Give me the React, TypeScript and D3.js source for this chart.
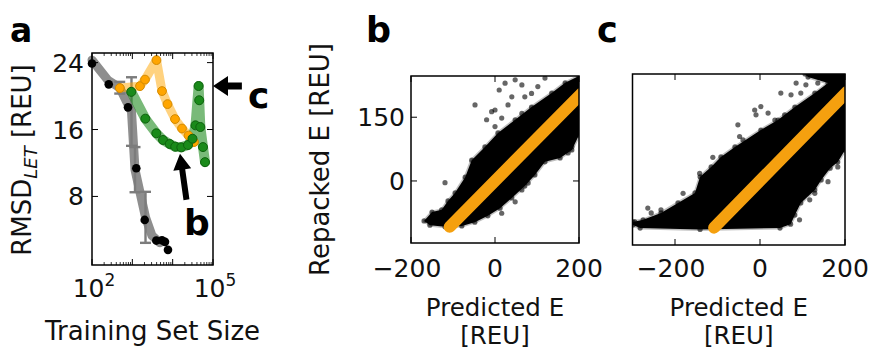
import React from 'react';
import * as d3 from 'd3';

const W = 870;
const H = 354;
const FONT = 'DejaVu Sans, Verdana, sans-serif';

// ---------- Panel a: learning curves ----------
const blackSizes = [100, 260, 781, 1254, 2027, 3930, 5440, 6460, 7650];
const blackRmsd = [23.9, 21.4, 18.65, 11.37, 5.19, 2.72, 2.75, 2.57, 1.61];

const graySizes = [100, 249, 487, 953, 1165, 2122, 3076, 4850];
const grayRmsd = [24.3, 21.9, 21.0, 18.15, 11.2, 5.5, 3.3, 2.45];
const grayErr = [0, 0, 0.7, 4.1, 2.7, 3.05, 0, 0];

const orangeSizes = [490, 1549, 2062, 3970, 5440, 7450, 11430, 17060, 24700, 33800];
const orangeRmsd = [20.96, 21.19, 21.97, 24.3, 20.6, 19.04, 17.25, 16.12, 15.28, 14.5];

const greenSizes = [942, 2100, 3930, 5760, 8450, 11600, 16400, 24000, 31000, 36800, 44000, 45500, 48500, 56500, 63400];
const greenRmsd = [20.5, 17.3, 15.55, 14.75, 14.27, 13.95, 13.87, 14.15, 14.9, 16.5, 21.2, 19.5, 16.3, 13.9, 12.1];

const aYTicks = [8, 16, 24];
const aXLabelExps = [2, 5];
const aMajorExps = [2, 3, 4, 5];

// annotation arrows in panel a (data units)
const arrowC = { tip: [1e5, 21.2], tail: [5.2e5, 21.2], label: 'c', labelAt: [7.4e5, 18.6] };
const arrowB = { tip: [15200, 13.1], tail: [22000, 7.6], label: 'b', labelAt: [19100, 3.4] };

// ---------- Panels b, c: predicted vs repacked energy ----------
const eXTicks = [-200, 0, 200];
const eYTicks = [0, 150];
const diagE = [-108, 205];

const bDenseX = [-169, -150, -127, -112, -95, -71, -55.5, -24, 7, 48, 87, 135, 167, 200, 200, 183, 155, 119, 95, 71, 40, 12, -17, -48, -79, -119, -155];
const bDenseY = [-94, -73, -68, -47, -28, 9, 49, 80, 113, 144, 174, 207, 231, 247, 108, 73, 54, 45, 14, -12, -40, -64, -82, -97, -106, -108, -104];
const bOutX = [-47.6, -8, 24, 48, 64, 119, 102, 31, 0, -20, 40, 71, 87, 16, 0, 64, 174, 183, 190, -119, 48, 16, 64, 79, 148, 10, 107];
const bOutY = [179, 163, 230, 238, 226, 242, 222, 179, 167, 144, 198, 198, 206, 148, 128, 159, 66, 81, 113, -4, -49, -76, -21, -5, 198, 214, 148];

const cDenseX = [-299, -275, -233, -193, -153, -141, -115, -92, -59, 2, 42, 82, 129, 160, 113, 106, 200, 200, 183, 165, 144, 129, 96, 82, 72, 47, -141, -282, -299];
const cDenseY = [-95, -90, -74, -51, -28, 9, 32, 55, 78, 117, 140, 170, 202, 225, 239, 246, 246, 71, 43, 29, 2, -21, -51, -79, -100, -109, -112, -109, -102];
const cOutX = [-111, -52, -48, -40, -12.5, -9.4, 2, 19, 49, 73, 96, 85, 108, 136, 35, 58, 26, -142, -181, -233, -264, -295, -256, 93, 117, 129, 160, 183];
const cOutY = [54, 129, 102, 94, 163, 152, 171, 156, 202, 198, 202, 225, 221, 225, 140, 152, 102, 17, -29, -67, -63, -94, -74, -90, -44, -29, -2, 32];

// ---------- scales ----------
const xA = d3.scaleLog().domain([100, 1e5]).range([92, 213]);
const yA = d3.scaleLinear().domain([-0.2, 25.15]).range([265, 53]);
const xB = d3.scaleLinear().domain([-200, 200]).range([411, 579]);
const yB = d3.scaleLinear().domain([-146, 247]).range([243, 76]);
const xC = d3.scaleLinear().domain([-300, 200]).range([632.5, 845]);
const yC = d3.scaleLinear().domain([-148, 246]).range([245, 74]);

const TEXT = '#111';

function arrowPath(x1: number, y1: number, x2: number, y2: number, headLen: number, headW: number, shaftW: number) {
  const dx = x2 - x1, dy = y2 - y1;
  const L = Math.hypot(dx, dy);
  const ux = dx / L, uy = dy / L;
  const px = -uy, py = ux;
  const bx = x2 - ux * headLen, by = y2 - uy * headLen;
  const pts = [
    [x1 + px * shaftW / 2, y1 + py * shaftW / 2],
    [bx + px * shaftW / 2, by + py * shaftW / 2],
    [bx + px * headW / 2, by + py * headW / 2],
    [x2, y2],
    [bx - px * headW / 2, by - py * headW / 2],
    [bx - px * shaftW / 2, by - py * shaftW / 2],
    [x1 - px * shaftW / 2, y1 - py * shaftW / 2],
  ];
  return 'M' + pts.map((p) => p.join(',')).join('L') + 'Z';
}

function PanelA() {
  const [x0, x1] = xA.range();
  const [y0, y1] = yA.range();
  const line = d3.line<[number, number]>().x((d) => xA(d[0])).y((d) => yA(d[1]));
  const grayPts = graySizes.map((s, i) => [s, grayRmsd[i]] as [number, number]);
  const orangePts = orangeSizes.map((s, i) => [s, orangeRmsd[i]] as [number, number]);
  const greenPts = greenSizes.map((s, i) => [s, greenRmsd[i]] as [number, number]);
  const minor: number[] = [];
  for (let e = 2; e < 5; e++) for (let m = 2; m <= 9; m++) minor.push(m * Math.pow(10, e));
  const cTip = [xA(arrowC.tip[0]), yA(arrowC.tip[1])];
  const cTail = [xA(arrowC.tail[0]), yA(arrowC.tail[1])];
  const bTip = [xA(arrowB.tip[0]), yA(arrowB.tip[1])];
  const bTail = [xA(arrowB.tail[0]), yA(arrowB.tail[1])];
  return (
    <g>
      <path d={line(grayPts) || ''} fill="none" stroke="#7a7a7a" strokeOpacity={0.85} strokeWidth={9} strokeLinejoin="round" strokeLinecap="round" />
      {grayPts.map((d, i) =>
        grayErr[i] > 0 ? (
          <g key={'e' + i} stroke="#7c7c7c" strokeWidth={2.4}>
            <line x1={xA(d[0])} x2={xA(d[0])} y1={yA(d[1] - grayErr[i])} y2={yA(d[1] + grayErr[i])} />
            <line x1={xA(d[0]) - 5.5} x2={xA(d[0]) + 5.5} y1={yA(d[1] - grayErr[i])} y2={yA(d[1] - grayErr[i])} />
            <line x1={xA(d[0]) - 5.5} x2={xA(d[0]) + 5.5} y1={yA(d[1] + grayErr[i])} y2={yA(d[1] + grayErr[i])} />
          </g>
        ) : null
      )}
      <path d={line(orangePts) || ''} fill="none" stroke="#ffa500" strokeOpacity={0.5} strokeWidth={9} strokeLinejoin="round" strokeLinecap="round" />
      <path d={line(greenPts) || ''} fill="none" stroke="#1f8c1f" strokeOpacity={0.6} strokeWidth={10} strokeLinejoin="round" strokeLinecap="round" />
      {blackSizes.map((s, i) => (
        <circle key={'k' + i} cx={xA(s)} cy={yA(blackRmsd[i])} r={4.3} fill="#000" />
      ))}
      {orangePts.map((d, i) => (
        <circle key={'o' + i} cx={xA(d[0])} cy={yA(d[1])} r={4.4} fill="#ffa500" stroke="#d48a00" strokeWidth={1} />
      ))}
      {greenPts.map((d, i) => (
        <circle key={'g' + i} cx={xA(d[0])} cy={yA(d[1])} r={4.5} fill="#1a8a1a" stroke="#0e620e" strokeWidth={1} />
      ))}
      <rect x={x0} y={y1} width={x1 - x0} height={y0 - y1} fill="none" stroke="#000" strokeWidth={1.5} />
      {aYTicks.map((t) => (
        <g key={'yt' + t}>
          <line x1={x0} x2={x0 + 6} y1={yA(t)} y2={yA(t)} stroke="#000" strokeWidth={1} />
          <line x1={x1} x2={x1 - 6} y1={yA(t)} y2={yA(t)} stroke="#000" strokeWidth={1} />
          <text x={84} y={yA(t)} dy="0.36em" textAnchor="end" fontSize={25} fill={TEXT}>{t}</text>
        </g>
      ))}
      {aMajorExps.map((e) => (
        <g key={'xm' + e}>
          <line x1={xA(Math.pow(10, e))} x2={xA(Math.pow(10, e))} y1={y0} y2={y0 - 6} stroke="#000" />
          <line x1={xA(Math.pow(10, e))} x2={xA(Math.pow(10, e))} y1={y1} y2={y1 + 6} stroke="#000" />
        </g>
      ))}
      {minor.map((m) => (
        <g key={'xn' + m}>
          <line x1={xA(m)} x2={xA(m)} y1={y0} y2={y0 - 3} stroke="#000" strokeWidth={0.8} />
          <line x1={xA(m)} x2={xA(m)} y1={y1} y2={y1 + 3} stroke="#000" strokeWidth={0.8} />
        </g>
      ))}
      {aXLabelExps.map((e) => (
        <text key={'xl' + e} x={xA(Math.pow(10, e)) + 2} y={297} textAnchor="middle" fontSize={25} fill={TEXT}>
          10<tspan fontSize={17} dy={-11}>{e}</tspan>
        </text>
      ))}
      <text x={(x0 + x1) / 2} y={340} textAnchor="middle" fontSize={26} fill={TEXT}>Training Set Size</text>
      <text transform={`translate(31,${(y0 + y1) / 2 + 1}) rotate(-90)`} textAnchor="middle" fontSize={26} fill={TEXT}>
        RMSD<tspan fontSize={18} fontStyle="italic" dy={6}>LET</tspan>
        <tspan dy={-6}> [REU]</tspan>
      </text>
      <path d={arrowPath(cTail[0], cTail[1], cTip[0], cTip[1], 15, 20, 7)} fill="#000" />
      <text x={xA(arrowC.labelAt[0])} y={yA(arrowC.labelAt[1])} fontSize={36} fontWeight="bold" fill="#000">{arrowC.label}</text>
      <path d={arrowPath(bTail[0], bTail[1], bTip[0], bTip[1], 16, 18, 6)} fill="#000" />
      <text x={xA(arrowB.labelAt[0])} y={yA(arrowB.labelAt[1])} fontSize={36} fontWeight="bold" fill="#000">{arrowB.label}</text>
    </g>
  );
}

function ScatterPanel(props: {
  id: string;
  x: d3.ScaleLinear<number, number>;
  y: d3.ScaleLinear<number, number>;
  denseX: number[];
  denseY: number[];
  outX: number[];
  outY: number[];
  yTicks: number[];
  yLabels: boolean;
}) {
  const { id, x, y, denseX, denseY, outX, outY, yTicks, yLabels } = props;
  const [x0, x1] = x.range();
  const [y0, y1] = y.range();
  const poly = d3.line<number>().x((_, i) => x(denseX[i])).y((_, i) => y(denseY[i])).curve(d3.curveLinearClosed)(denseX) || '';
  const cx = (x0 + x1) / 2;
  return (
    <g>
      <defs>
        <clipPath id={'clip-' + id}>
          <rect x={x0} y={y1} width={x1 - x0} height={y0 - y1} />
        </clipPath>
      </defs>
      <g clipPath={`url(#clip-${id})`}>
        <path d={poly} fill="#000" stroke="#000" strokeOpacity={0.25} strokeWidth={3} strokeLinejoin="round" />
        {denseX.map((v, i) => (
          <circle key={'d' + i} cx={x(v)} cy={y(denseY[i])} r={2.6} fill="#000" fillOpacity={0.6} />
        ))}
        {outX.map((v, i) => (
          <circle key={'o' + i} cx={x(v)} cy={y(outY[i])} r={2.6} fill="#000" fillOpacity={0.6} />
        ))}
        <line x1={x(diagE[0])} y1={y(diagE[0])} x2={x(diagE[1])} y2={y(diagE[1])} stroke="#f5a00f" strokeWidth={12} strokeLinecap="round" />
      </g>
      <rect x={x0} y={y1} width={x1 - x0} height={y0 - y1} fill="none" stroke="#000" strokeWidth={1.5} />
      {eXTicks.map((t) => (
        <g key={'xt' + t}>
          <line x1={x(t)} x2={x(t)} y1={y0} y2={y0 - 6} stroke="#000" />
          <line x1={x(t)} x2={x(t)} y1={y1} y2={y1 + 6} stroke="#000" />
          <text x={x(t) - (t < 0 ? 4 : 0)} y={277} textAnchor="middle" fontSize={25} fill={TEXT}>
            {t < 0 ? '\u2212' + Math.abs(t) : t}
          </text>
        </g>
      ))}
      {yTicks.map((t) => (
        <g key={'yt' + t}>
          <line x1={x0} x2={x0 + 6} y1={y(t)} y2={y(t)} stroke="#000" />
          <line x1={x1} x2={x1 - 6} y1={y(t)} y2={y(t)} stroke="#000" />
          {yLabels ? (
            <text x={x0 - 6} y={y(t)} dy="0.36em" textAnchor="end" fontSize={25} fill={TEXT}>{t}</text>
          ) : null}
        </g>
      ))}
      <text x={cx} y={316} textAnchor="middle" fontSize={24.5} fill={TEXT}>Predicted E</text>
      <text x={cx} y={344} textAnchor="middle" fontSize={24.5} fill={TEXT}>[REU]</text>
    </g>
  );
}

export default function App() {
  return (
    <svg width={W} height={H} style={{ position: 'absolute', left: 0, top: 0, background: '#fff' }} fontFamily={FONT}>
      <rect x={0} y={0} width={W} height={H} fill="#fff" />
      <PanelA />
      <ScatterPanel id="b" x={xB} y={yB} denseX={bDenseX} denseY={bDenseY} outX={bOutX} outY={bOutY} yTicks={eYTicks} yLabels={true} />
      <ScatterPanel id="c" x={xC} y={yC} denseX={cDenseX} denseY={cDenseY} outX={cOutX} outY={cOutY} yTicks={[]} yLabels={false} />
      <text transform={`translate(329,${(yB.range()[0] + yB.range()[1]) / 2}) rotate(-90)`} textAnchor="middle" fontSize={26} fill={TEXT}>
        Repacked E [REU]
      </text>
      <text x={10} y={42} fontSize={33} fontWeight="bold" fill="#000">a</text>
      <text x={366} y={42} fontSize={35} fontWeight="bold" fill="#000">b</text>
      <text x={597} y={42} fontSize={35} fontWeight="bold" fill="#000">c</text>
    </svg>
  );
}
